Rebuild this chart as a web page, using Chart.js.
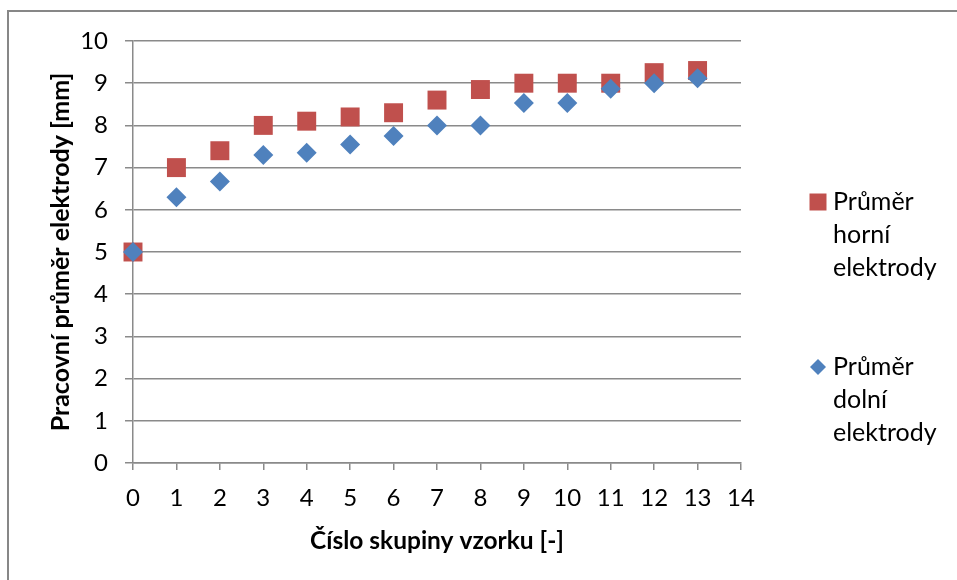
<!DOCTYPE html>
<html>
<head>
<meta charset="utf-8">
<script src="https://cdn.jsdelivr.net/npm/chart.js@4.4.1/dist/chart.umd.min.js"></script>
<style>
  html, body { margin: 0; padding: 0; background: #fff; }
  #wrap { position: relative; width: 957px; height: 580px; overflow: hidden; }
</style>
</head>
<body>
<div id="wrap"><canvas id="chart" width="957" height="580"></canvas></div>
<script>
// sample groups and measured diameters (mm)
const groups = [0, 1, 2, 3, 4, 5, 6, 7, 8, 9, 10, 11, 12, 13];
const upperDiameter = [5.0, 7.0, 7.4, 8.0, 8.1, 8.2, 8.3, 8.6, 8.85, 9.0, 9.0, 9.0, 9.25, 9.3];
const lowerDiameter = [5.0, 6.3, 6.67, 7.3, 7.35, 7.55, 7.75, 8.0, 8.0, 8.53, 8.53, 8.87, 9.0, 9.12];
const upperLabel = ["Průměr", "horní", "elektrody"];
const lowerLabel = ["Průměr", "dolní", "elektrody"];
const xTitle = "Číslo skupiny vzorku [-]";
const yTitle = "Pracovní průměr elektrody [mm]";

const FONT = "Lato, 'Noto Sans', sans-serif";
const gridColor = "#8a8a8a";
const red = "#C0504D";
const blue = "#4F81BD";

const toPoints = (ys) => groups.map((x, i) => ({ x, y: ys[i] }));

// frame of the chart object (only top and left edges are visible)
const framePlugin = {
  id: "frame",
  beforeDraw: (chart) => {
    const ctx = chart.ctx;
    ctx.save();
    ctx.strokeStyle = "#878787";
    ctx.lineWidth = 2;
    ctx.beginPath();
    ctx.moveTo(8, chart.height);
    ctx.lineTo(8, 11);
    ctx.lineTo(chart.width, 11);
    ctx.stroke();
    ctx.restore();
  }
};

// legend with wrapped labels, drawn to the right of the plot
const legendPlugin = {
  id: "wrapLegend",
  afterDraw: (chart) => {
    const ctx = chart.ctx;
    const area = chart.chartArea;
    const markX = area.right + 77;
    const textX = area.right + 92;
    const lineH = 33;
    const items = [
      { text: upperLabel, y: 202, style: "rect", color: red, r: 8.5 },
      { text: lowerLabel, y: 367, style: "rectRot", color: blue, r: 8 }
    ];
    ctx.save();
    ctx.font = "25px " + FONT;
    ctx.textBaseline = "middle";
    items.forEach((it) => {
      ctx.fillStyle = it.color;
      ctx.beginPath();
      if (it.style === "rect") {
        ctx.rect(markX - it.r, it.y - it.r, it.r * 2, it.r * 2);
      } else {
        ctx.moveTo(markX - it.r, it.y);
        ctx.lineTo(markX, it.y - it.r);
        ctx.lineTo(markX + it.r, it.y);
        ctx.lineTo(markX, it.y + it.r);
        ctx.closePath();
      }
      ctx.fill();
      ctx.fillStyle = "#000";
      it.text.forEach((line, i) => ctx.fillText(line, textX, it.y + i * lineH));
    });
    ctx.restore();
  }
};

new Chart(document.getElementById("chart"), {
  type: "scatter",
  data: {
    datasets: [
      {
        label: upperLabel.join(" "),
        data: toPoints(upperDiameter),
        pointStyle: "rect",
        pointRadius: 13.4,
        pointHoverRadius: 13.4,
        backgroundColor: red,
        borderColor: red,
        borderWidth: 0,
        clip: false,
        order: 2
      },
      {
        label: lowerLabel.join(" "),
        data: toPoints(lowerDiameter),
        pointStyle: "rectRot",
        pointRadius: 10,
        pointHoverRadius: 10,
        backgroundColor: blue,
        borderColor: blue,
        borderWidth: 0,
        clip: false,
        order: 1
      }
    ]
  },
  options: {
    responsive: false,
    animation: false,
    layout: { padding: { left: 0, right: 216, top: 41, bottom: 0 } },
    plugins: {
      legend: { display: false },
      tooltip: { enabled: false }
    },
    scales: {
      x: {
        type: "linear",
        min: 0,
        max: 14,
        afterFit: (s) => { s.height = 117; },
        ticks: { stepSize: 1, color: "#000", padding: 14, font: { family: FONT, size: 24 } },
        grid: { drawOnChartArea: false, drawTicks: true, tickLength: 7, color: gridColor, lineWidth: 1.5 },
        border: { color: gridColor, width: 1.5 },
        title: {
          display: true,
          text: xTitle,
          color: "#000",
          font: { family: FONT, size: 24.5, weight: "bold" },
          padding: { top: 0, bottom: 24 }
        }
      },
      y: {
        type: "linear",
        min: 0,
        max: 10,
        afterFit: (s) => { s.width = 133; },
        ticks: { stepSize: 1, color: "#000", padding: 17, font: { family: FONT, size: 24 } },
        grid: { color: gridColor, lineWidth: 1.5, tickLength: 8 },
        border: { color: gridColor, width: 1.5 },
        title: {
          display: true,
          text: yTitle,
          color: "#000",
          font: { family: FONT, size: 25, weight: "bold" },
          padding: { top: 46, bottom: 0 }
        }
      }
    }
  },
  plugins: [framePlugin, legendPlugin]
});
</script>
</body>
</html>
